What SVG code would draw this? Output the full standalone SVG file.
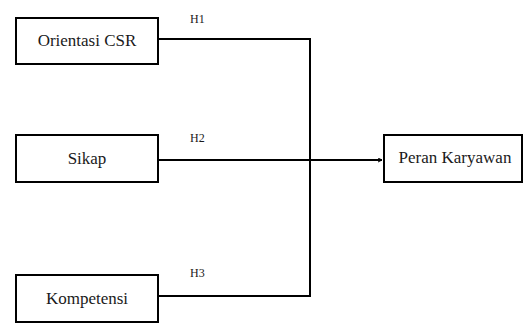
<svg xmlns="http://www.w3.org/2000/svg" width="524" height="325" viewBox="0 0 524 325">
<defs>
<style>
.box{fill:#fff;stroke:#000;stroke-width:2}
.lbl{font-family:'Liberation Serif','Times New Roman','DejaVu Serif',serif;font-size:17px;fill:#1a1a1a;text-anchor:middle}
.h{font-family:'Liberation Serif','Times New Roman','DejaVu Serif',serif;font-size:12px;fill:#1a1a1a}
.ln{fill:none;stroke:#000;stroke-width:2}
</style>
<marker id="arr" viewBox="0 0 10 10" refX="9" refY="5" markerWidth="5" markerHeight="5" orient="auto" markerUnits="userSpaceOnUse">
<path d="M1,1 L9,5 L1,9" fill="none" stroke="#000" stroke-width="2"/>
</marker>
</defs>
<rect width="524" height="325" fill="#fff"/>
<g id="connectors">
<polyline class="ln" points="158,39 310,39 310,296 158,296"/>
<line class="ln" x1="158" y1="160" x2="382" y2="160" marker-end="url(#arr)"/>
<text class="h" x="190" y="23">H1</text>
<text class="h" x="190" y="142">H2</text>
<text class="h" x="190" y="277">H3</text>
</g>
<g id="orientasi">
<rect class="box" x="16" y="18" width="142" height="46"/>
<text class="lbl" x="87" y="46">Orientasi CSR</text>
</g>
<g id="sikap">
<rect class="box" x="16" y="135" width="142" height="47"/>
<text class="lbl" x="87" y="164">Sikap</text>
</g>
<g id="kompetensi">
<rect class="box" x="16" y="275" width="142" height="47"/>
<text class="lbl" x="87" y="304">Kompetensi</text>
</g>
<g id="peran">
<rect class="box" x="384" y="135" width="138" height="47"/>
<text class="lbl" x="455" y="163">Peran Karyawan</text>
</g>
</svg>
